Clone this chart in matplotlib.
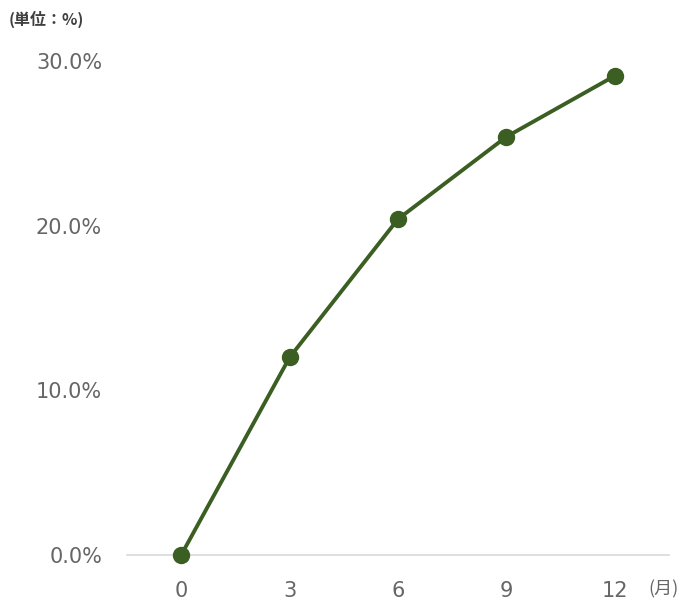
import matplotlib.pyplot as plt
from matplotlib.ticker import FuncFormatter

# data
months = ['0', '3', '6', '9', '12']
rate = [0.0, 12.0, 20.4, 25.4, 29.1]
yticks = [0, 10, 20, 30]

green = '#3b5e22'
gray = '#666666'

plt.rcParams['font.family'] = ['DejaVu Sans', 'Noto Sans CJK JP']

fig = plt.figure(figsize=(6.88, 6.03), dpi=100)
ax = fig.add_axes([0.1846, 0.0796, 0.7878, 0.8192])

x = list(range(len(months)))
ax.plot(x, rate, color=green, linewidth=2.8, marker='o', markersize=11.5, clip_on=False, zorder=3)

ax.set_xlim(-0.5, len(months) - 0.5)
ax.set_ylim(0, 30)
ax.set_xticks(x)
ax.set_xticklabels(months)
ax.set_yticks(yticks)
ax.yaxis.set_major_formatter(FuncFormatter(lambda v, p: f'{v:.1f}%'))

for s in ['top', 'right', 'left']:
    ax.spines[s].set_visible(False)
ax.spines['bottom'].set_color('#d9d9d9')
ax.spines['bottom'].set_linewidth(1.2)
ax.tick_params(axis='both', length=0, labelsize=15, labelcolor=gray)
ax.tick_params(axis='y', pad=18)
ax.tick_params(axis='x', pad=19)

fig.text(0.012, 0.968, '(単位：%)', fontsize=11.5, color='#404040', fontweight='bold',
         family=['Noto Sans CJK JP', 'DejaVu Sans'], va='center', ha='left')
fig.text(0.942, 0.022, '(月)', fontsize=13, color=gray,
         family=['Noto Sans CJK JP', 'DejaVu Sans'], va='center', ha='left')

fig.savefig('out.png', dpi=100)
